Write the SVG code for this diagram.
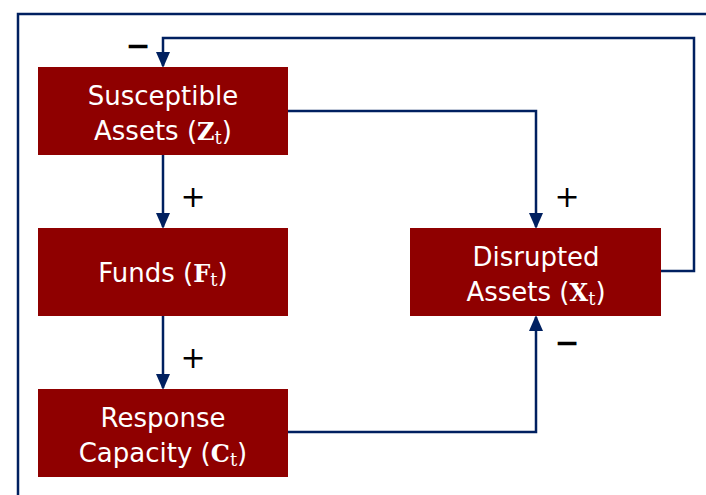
<svg xmlns="http://www.w3.org/2000/svg" width="706" height="495" viewBox="0 0 706 495">
<style>
.box{fill:#8F0000}
.lbl{font-family:"DejaVu Sans","Liberation Sans",sans-serif;font-size:26px;fill:#ffffff;text-anchor:middle}
.m{font-family:"DejaVu Serif","Liberation Serif",serif;font-weight:bold;font-size:24px}
.s{font-family:"DejaVu Serif","Liberation Serif",serif;font-size:18px}
.p{font-family:"DejaVu Sans",sans-serif;font-size:26px}
.c{fill:none;stroke:#002060;stroke-width:2.5}
.sign{font-family:"DejaVu Sans","Liberation Sans",sans-serif;font-size:30px;fill:#000;text-anchor:middle}
.neg{font-weight:bold}
</style>
<defs>
<marker id="ah" markerWidth="16" markerHeight="14" refX="14" refY="7" orient="auto" markerUnits="userSpaceOnUse">
<path d="M0,0 L16,7 L0,14 Z" fill="#002060"/>
</marker>
</defs>
<rect x="18" y="14" width="700" height="500" fill="none" stroke="#002060" stroke-width="2.5"/>
<g id="connectors">
<path class="c" d="M661,271 H694 V38 H163 V66" marker-end="url(#ah)"/>
<path class="c" d="M288,111 H536 V227" marker-end="url(#ah)"/>
<path class="c" d="M163,155 V227" marker-end="url(#ah)"/>
<path class="c" d="M163,316 V388" marker-end="url(#ah)"/>
<path class="c" d="M288,432 H536 V317" marker-end="url(#ah)"/>
</g>
<g id="signs">
<text class="sign neg" x="138" y="56">−</text>
<text class="sign" x="193" y="207">+</text>
<text class="sign" x="567" y="207">+</text>
<text class="sign" x="193" y="368">+</text>
<text class="sign neg" x="567" y="353">−</text>
</g>
<g id="susceptible">
<rect class="box" x="38" y="67" width="250" height="88"/>
<text class="lbl" x="163" y="105">Susceptible</text>
<text class="lbl" x="163" y="140">Assets <tspan class="p">(</tspan><tspan class="m">Z</tspan><tspan class="s" dy="4">t</tspan><tspan class="p" dy="-4">)</tspan></text>
</g>
<g id="funds">
<rect class="box" x="38" y="228" width="250" height="88"/>
<text class="lbl" x="163" y="282">Funds <tspan class="p">(</tspan><tspan class="m">F</tspan><tspan class="s" dy="4">t</tspan><tspan class="p" dy="-4">)</tspan></text>
</g>
<g id="response">
<rect class="box" x="38" y="389" width="250" height="88"/>
<text class="lbl" x="163" y="427">Response</text>
<text class="lbl" x="163" y="462">Capacity <tspan class="p">(</tspan><tspan class="m">C</tspan><tspan class="s" dy="4">t</tspan><tspan class="p" dy="-4">)</tspan></text>
</g>
<g id="disrupted">
<rect class="box" x="410" y="228" width="251" height="88"/>
<text class="lbl" x="536" y="266">Disrupted</text>
<text class="lbl" x="536" y="301">Assets <tspan class="p">(</tspan><tspan class="m">X</tspan><tspan class="s" dy="4">t</tspan><tspan class="p" dy="-4">)</tspan></text>
</g>
</svg>
